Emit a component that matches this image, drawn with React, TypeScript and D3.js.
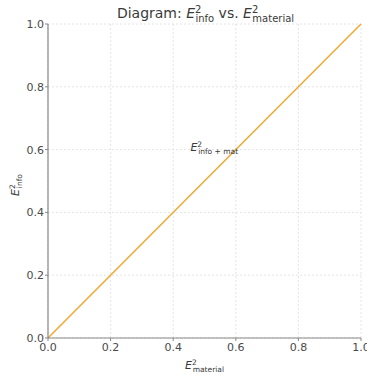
import React from "react";
import * as d3 from "d3";

const lineX = [0, 1];
const lineY = [0, 1];
const xTicks = [0, 0.2, 0.4, 0.6, 0.8, 1.0];
const yTicks = [0, 0.2, 0.4, 0.6, 0.8, 1.0];
const annotation = { x: 0.455, y: 0.6 };

const W = 367;
const H = 375;
const margin = { top: 24, right: 6, bottom: 37, left: 48 };

const App = () => {
  const x = d3.scaleLinear().domain([0, 1]).range([margin.left, W - margin.right]);
  const y = d3.scaleLinear().domain([0, 1]).range([H - margin.bottom, margin.top]);
  const line = d3
    .line<number>()
    .x((d) => x(lineX[d]))
    .y((d) => y(lineY[d]));

  const textCol = "#3a3a3a";
  const tickCol = "#4a4a4a";
  const font = "DejaVu Sans, sans-serif";

  return (
    <svg width={W} height={H} style={{ position: "absolute", left: 0, top: 0, fontFamily: font }}>
      <rect width={W} height={H} fill="white" />
      {/* grid */}
      {xTicks.map((t) => (
        <line key={"gx" + t} x1={x(t)} x2={x(t)} y1={y(0)} y2={y(1)} stroke="#ddd" strokeWidth={0.8} strokeDasharray="2,2" />
      ))}
      {yTicks.map((t) => (
        <line key={"gy" + t} x1={x(0)} x2={x(1)} y1={y(t)} y2={y(t)} stroke="#ddd" strokeWidth={0.8} strokeDasharray="2,2" />
      ))}
      {/* data line */}
      <path d={line([0, 1]) || ""} fill="none" stroke="#f0a830" strokeWidth={1.5} />
      {/* spines */}
      <line x1={x(0)} x2={x(0)} y1={y(0)} y2={y(1)} stroke="#888" strokeWidth={1.2} />
      <line x1={x(0)} x2={x(1)} y1={y(0)} y2={y(0)} stroke="#888" strokeWidth={1.2} />
      {/* ticks */}
      {xTicks.map((t) => (
        <g key={"tx" + t}>
          <line x1={x(t)} x2={x(t)} y1={y(0)} y2={y(0) + 3} stroke="#888" />
          <text x={x(t)} y={y(0) + 13} textAnchor="middle" fontSize={11} fill={tickCol}>
            {t.toFixed(1)}
          </text>
        </g>
      ))}
      {yTicks.map((t) => (
        <g key={"ty" + t}>
          <line x1={x(0) - 3} x2={x(0)} y1={y(t)} y2={y(t)} stroke="#888" />
          <text x={x(0) - 4} y={y(t) + 4} textAnchor="end" fontSize={11} fill={tickCol}>
            {t.toFixed(1)}
          </text>
        </g>
      ))}
      {/* title */}
      <text x={(x(0) + x(1)) / 2 + 1} y={18} textAnchor="middle" fontSize={14} fill={textCol}>
        Diagram: <tspan fontStyle="italic">E</tspan>
        <tspan fontSize={10} dy={-5}>2</tspan>
        <tspan fontSize={10} dx={-6} dy={9}>info</tspan>
        <tspan dy={-4}> vs. </tspan>
        <tspan fontStyle="italic">E</tspan>
        <tspan fontSize={10} dy={-5}>2</tspan>
        <tspan fontSize={10} dx={-6} dy={9}>material</tspan>
      </text>
      {/* x label */}
      <text x={(x(0) + x(1)) / 2} y={H - 6} textAnchor="middle" fontSize={11} fill={textCol}>
        <tspan fontStyle="italic">E</tspan>
        <tspan fontSize={7.5} dy={-4}>2</tspan>
        <tspan fontSize={7.5} dx={-4} dy={7}>material</tspan>
      </text>
      {/* y label */}
      <text transform={`translate(19, ${(y(0) + y(1)) / 2 + 4}) rotate(-90)`} textAnchor="middle" fontSize={11} fill={textCol}>
        <tspan fontStyle="italic">E</tspan>
        <tspan fontSize={7.5} dy={-4}>2</tspan>
        <tspan fontSize={7.5} dx={-4} dy={7}>info</tspan>
      </text>
      {/* annotation */}
      <text x={x(annotation.x)} y={y(annotation.y) + 1} fontSize={11} fill={textCol}>
        <tspan fontStyle="italic">E</tspan>
        <tspan fontSize={7.5} dy={-4}>2</tspan>
        <tspan fontSize={7.5} dx={-4} dy={7}>info + mat</tspan>
      </text>
    </svg>
  );
};

export default App;
